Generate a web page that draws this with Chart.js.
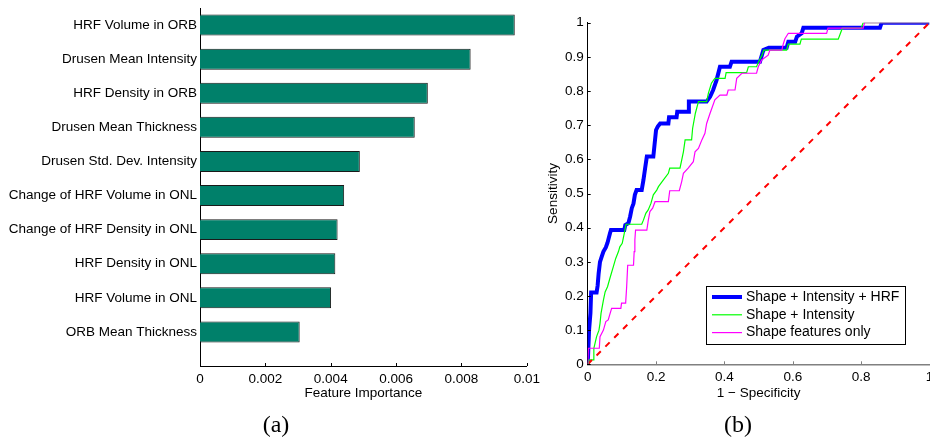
<!DOCTYPE html>
<html>
<head>
<meta charset="utf-8">
<script src="https://cdn.jsdelivr.net/npm/chart.js@4.4.0/dist/chart.umd.min.js"></script>
<style>
  body { margin: 0; background: #fff; }
  #fig { position: relative; width: 930px; height: 438px; overflow: hidden; background: #fff; }
  .panel { position: absolute; top: 0; height: 438px; }
  #wrapA { left: 0; width: 545px; }
  #wrapB { left: 540px; width: 400px; }
  .cap { position: absolute; font-family: "Liberation Serif", serif; font-size: 24px; line-height: 24px; transform: translateX(-50%); }
</style>
</head>
<body>
<div id="fig">
  <div class="panel" id="wrapA"><canvas id="chartA"></canvas></div>
  <div class="panel" id="wrapB"><canvas id="chartB"></canvas></div>
  <div class="cap" style="left:276px; top:412px">(a)</div>
  <div class="cap" style="left:738px; top:412px">(b)</div>
</div>
<script>
// panel (a): feature importance
const features = ['HRF Volume in ORB', 'Drusen Mean Intensity', 'HRF Density in ORB', 'Drusen Mean Thickness',
  'Drusen Std. Dev. Intensity', 'Change of HRF Volume in ONL', 'Change of HRF Density in ONL',
  'HRF Density in ONL', 'HRF Volume in ONL', 'ORB Mean Thickness'];
const importance = [0.00963, 0.00828, 0.00697, 0.00657, 0.00489, 0.00441, 0.00421, 0.00414, 0.00401, 0.00305];
const importanceTicks = [0, 0.002, 0.004, 0.006, 0.008, 0.01];

// panel (b): ROC curves (1 - specificity, sensitivity)
const rocTicksX = [0, 0.2, 0.4, 0.6, 0.8, 1];
const rocTicksY = [0, 0.1, 0.2, 0.3, 0.4, 0.5, 0.6, 0.7, 0.8, 0.9, 1];

const fullFpr = [0, 0.004, 0.008, 0.01, 0.026, 0.029, 0.032, 0.036, 0.041, 0.046, 0.053, 0.058, 0.065, 0.068,
  0.107, 0.110, 0.119, 0.124, 0.129, 0.134, 0.138, 0.143, 0.158, 0.163, 0.168, 0.173, 0.192, 0.197, 0.200,
  0.205, 0.212, 0.236, 0.238, 0.260, 0.262, 0.294, 0.296, 0.348, 0.358, 0.367, 0.377, 0.387, 0.416, 0.421,
  0.504, 0.514, 0.530, 0.582, 0.587, 0.607, 0.612, 0.626, 0.631, 0.855, 0.860, 1];
const fullTpr = [0, 0.10, 0.15, 0.21, 0.21, 0.23, 0.266, 0.30, 0.315, 0.33, 0.342, 0.356, 0.383, 0.393,
  0.393, 0.408, 0.413, 0.432, 0.457, 0.471, 0.496, 0.51, 0.51, 0.539, 0.574, 0.608, 0.608, 0.657, 0.686,
  0.696, 0.705, 0.705, 0.723, 0.723, 0.739, 0.739, 0.769, 0.769, 0.783, 0.803, 0.832, 0.871, 0.871, 0.886,
  0.886, 0.92, 0.927, 0.927, 0.944, 0.944, 0.959, 0.969, 0.985, 0.985, 1.0, 1.0];

const shapeIntFpr = [0, 0.004, 0.016, 0.018, 0.026, 0.033, 0.036, 0.039, 0.046, 0.051, 0.058, 0.065, 0.075,
  0.082, 0.090, 0.094, 0.101, 0.107, 0.112, 0.158, 0.163, 0.170, 0.177, 0.185, 0.192, 0.202, 0.207, 0.221,
  0.236, 0.240, 0.270, 0.275, 0.280, 0.285, 0.304, 0.307, 0.315, 0.324, 0.348, 0.353, 0.362, 0.372, 0.402,
  0.405, 0.465, 0.470, 0.494, 0.500, 0.510, 0.515, 0.582, 0.587, 0.621, 0.625, 0.733, 0.745, 0.800, 0.806, 1];
const shapeIntTpr = [0, 0.013, 0.013, 0.047, 0.081, 0.100, 0.120, 0.149, 0.188, 0.212, 0.227, 0.252, 0.286,
  0.310, 0.330, 0.344, 0.354, 0.383, 0.410, 0.410, 0.422, 0.442, 0.452, 0.471, 0.496, 0.510, 0.520, 0.539,
  0.559, 0.574, 0.574, 0.598, 0.622, 0.657, 0.657, 0.691, 0.735, 0.769, 0.769, 0.793, 0.823, 0.837, 0.837,
  0.854, 0.854, 0.871, 0.871, 0.886, 0.905, 0.920, 0.920, 0.937, 0.937, 0.952, 0.952, 0.984, 0.984, 1.0, 1.0];

const shapeFpr = [0, 0.002, 0.034, 0.036, 0.046, 0.053, 0.060, 0.070, 0.097, 0.099, 0.111, 0.114, 0.117,
  0.134, 0.136, 0.138, 0.140, 0.173, 0.177, 0.182, 0.190, 0.197, 0.236, 0.240, 0.268, 0.275, 0.280, 0.294,
  0.309, 0.314, 0.324, 0.334, 0.343, 0.348, 0.358, 0.363, 0.372, 0.387, 0.407, 0.411, 0.431, 0.436, 0.451,
  0.494, 0.499, 0.509, 0.528, 0.533, 0.568, 0.572, 0.577, 0.587, 0.699, 0.703, 0.806, 0.810, 1];
const shapeTpr = [0, 0.047, 0.047, 0.081, 0.100, 0.125, 0.130, 0.164, 0.164, 0.179, 0.179, 0.227, 0.290,
  0.290, 0.330, 0.364, 0.393, 0.393, 0.420, 0.447, 0.457, 0.476, 0.476, 0.508, 0.508, 0.535, 0.559, 0.574,
  0.593, 0.622, 0.632, 0.657, 0.676, 0.705, 0.735, 0.749, 0.774, 0.788, 0.788, 0.803, 0.803, 0.837, 0.852,
  0.852, 0.871, 0.891, 0.905, 0.920, 0.920, 0.937, 0.953, 0.969, 0.969, 0.984, 0.984, 1.0, 1.0];

const chanceFpr = [0, 1];
const chanceTpr = [0, 1];

const rocLabels = ['Shape + Intensity + HRF', 'Shape + Intensity', 'Shape features only'];

Chart.defaults.font.family = '"Liberation Sans", Arial, Helvetica, sans-serif';
Chart.defaults.color = '#000';

// matlab style ticks pointing into the plot
const inwardTicks = {
  id: 'inwardTicks',
  afterDatasetsDraw(chart, args, opts) {
    const ctx = chart.ctx;
    const area = chart.chartArea;
    ctx.save();
    (opts.axes || []).forEach(a => {
      const scale = chart.scales[a.id];
      ctx.strokeStyle = a.color;
      ctx.lineWidth = 1;
      scale.ticks.forEach(t => {
        const p = Math.round(scale.getPixelForValue(t.value)) + 0.5;
        ctx.beginPath();
        if (scale.isHorizontal()) {
          ctx.moveTo(p, area.bottom);
          ctx.lineTo(p, area.bottom - a.len);
        } else {
          ctx.moveTo(area.left, p);
          ctx.lineTo(area.left + a.len, p);
        }
        ctx.stroke();
      });
    });
    ctx.restore();
  }
};

// boxed legend in the lower right of the plot
const boxLegend = {
  id: 'boxLegend',
  afterDatasetsDraw(chart, args, opts) {
    const {ctx, chartArea} = chart;
    const x0 = Math.round(chartArea.right - opts.right - opts.width);
    const y0 = Math.round(chartArea.bottom - opts.bottom - opts.height);
    ctx.save();
    ctx.fillStyle = '#fff';
    ctx.fillRect(x0, y0, opts.width, opts.height);
    ctx.strokeStyle = '#000';
    ctx.lineWidth = 1;
    ctx.strokeRect(x0 + 0.5, y0 + 0.5, opts.width, opts.height);
    ctx.font = '14px "Liberation Sans", Arial, sans-serif';
    ctx.textBaseline = 'middle';
    chart.data.datasets.slice(0, rocLabels.length).forEach((ds, i) => {
      const y = y0 + 11 + i * 17.8;
      ctx.strokeStyle = ds.borderColor;
      ctx.lineWidth = ds.borderWidth;
      ctx.beginPath();
      ctx.moveTo(x0 + 6, y);
      ctx.lineTo(x0 + 36, y);
      ctx.stroke();
      ctx.fillStyle = '#000';
      ctx.fillText(ds.label, x0 + 40, y);
    });
    ctx.restore();
  }
};

new Chart(document.getElementById('chartA'), {
  type: 'bar',
  data: {
    datasets: [{
      data: importance.map((v, i) => ({x: v, y: i + 1})),
      backgroundColor: '#00806a',
      borderColor: '#1a1a1a',
      borderWidth: 1,
      categoryPercentage: 1,
      barPercentage: 0.615
    }]
  },
  options: {
    responsive: true,
    maintainAspectRatio: false,
    animation: false,
    indexAxis: 'y',
    layout: { padding: { top: 8, right: 16.7, bottom: 37, left: 0 } },
    plugins: {
      legend: { display: false },
      tooltip: { enabled: false },
      inwardTicks: { axes: [{ id: 'x', len: 3, color: '#000' }] }
    },
    scales: {
      x: {
        type: 'linear', position: 'bottom', min: 0, max: 0.01,
        afterBuildTicks: s => { s.ticks = importanceTicks.map(v => ({value: v})); },
        afterFit: s => { s.height = 35; },
        grid: { display: false, drawTicks: false },
        border: { display: true, color: '#000', width: 1 },
        ticks: { padding: 5, maxRotation: 0, autoSkip: false, font: { size: 13.5 }, callback: v => String(v) },
        title: { display: true, text: 'Feature Importance', font: { size: 13.5 }, padding: { top: 0, bottom: 0 } }
      },
      y: {
        type: 'linear', reverse: true, min: 0.5, max: 11, offset: false,
        afterBuildTicks: s => { s.ticks = features.map((f, i) => ({value: i + 1})); },
        afterFit: s => { s.width = 200; s.paddingTop = 0; s.paddingBottom = 0; },
        grid: { display: false, drawTicks: false, offset: false },
        border: { display: true, color: '#000', width: 1 },
        ticks: { padding: 3, autoSkip: false, font: { size: 13.5 }, callback: v => features[v - 1] }
      }
    }
  },
  plugins: [inwardTicks]
});

const pts = (xs, ys) => xs.map((x, i) => ({x: x, y: ys[i]}));

new Chart(document.getElementById('chartB'), {
  type: 'line',
  data: {
    datasets: [
      { label: rocLabels[0], data: pts(fullFpr, fullTpr), borderColor: '#0000ff', borderWidth: 4, order: 4 },
      { label: rocLabels[1], data: pts(shapeIntFpr, shapeIntTpr), borderColor: '#00ff00', borderWidth: 1.2, order: 3 },
      { label: rocLabels[2], data: pts(shapeFpr, shapeTpr), borderColor: '#ff00ff', borderWidth: 1.2, order: 2 },
      { label: 'chance', data: pts(chanceFpr, chanceTpr), borderColor: '#ff0000', borderWidth: 2, borderDash: [6, 6.5], order: 1 }
    ]
  },
  options: {
    responsive: true,
    maintainAspectRatio: false,
    animation: false,
    layout: { padding: { top: 22.7, right: 10.5, bottom: 37, left: 0 } },
    elements: { point: { radius: 0 }, line: { tension: 0, fill: false } },
    plugins: {
      legend: { display: false },
      tooltip: { enabled: false },
      inwardTicks: { axes: [{ id: 'x', len: 3, color: '#808080' }, { id: 'y', len: 3, color: '#000' }] },
      boxLegend: { right: 24.5, bottom: 20.3, width: 199, height: 58 }
    },
    scales: {
      x: {
        type: 'linear', min: 0, max: 1,
        afterBuildTicks: s => { s.ticks = rocTicksX.map(v => ({value: v})); },
        afterFit: s => { s.height = 36.7; },
        grid: { display: false, drawTicks: false },
        border: { display: true, color: '#808080', width: 1.5 },
        ticks: { padding: 5, maxRotation: 0, autoSkip: false, font: { size: 13.5 }, callback: v => String(v) },
        title: { display: true, text: '1 \u2212 Specificity', font: { size: 13.5 }, padding: { top: 0, bottom: 0 } }
      },
      y: {
        type: 'linear', min: 0, max: 1,
        afterBuildTicks: s => { s.ticks = rocTicksY.map(v => ({value: v})); },
        afterFit: s => { s.width = 47.7; },
        grid: { display: false, drawTicks: false },
        border: { display: true, color: '#000', width: 1 },
        ticks: { padding: 4, autoSkip: false, font: { size: 13.5 }, callback: v => String(Number(v.toFixed(1))) },
        title: { display: true, text: 'Sensitivity', font: { size: 13.5 }, padding: { top: 5, bottom: 0 } }
      }
    }
  },
  plugins: [inwardTicks, boxLegend]
});
</script>
</body>
</html>
